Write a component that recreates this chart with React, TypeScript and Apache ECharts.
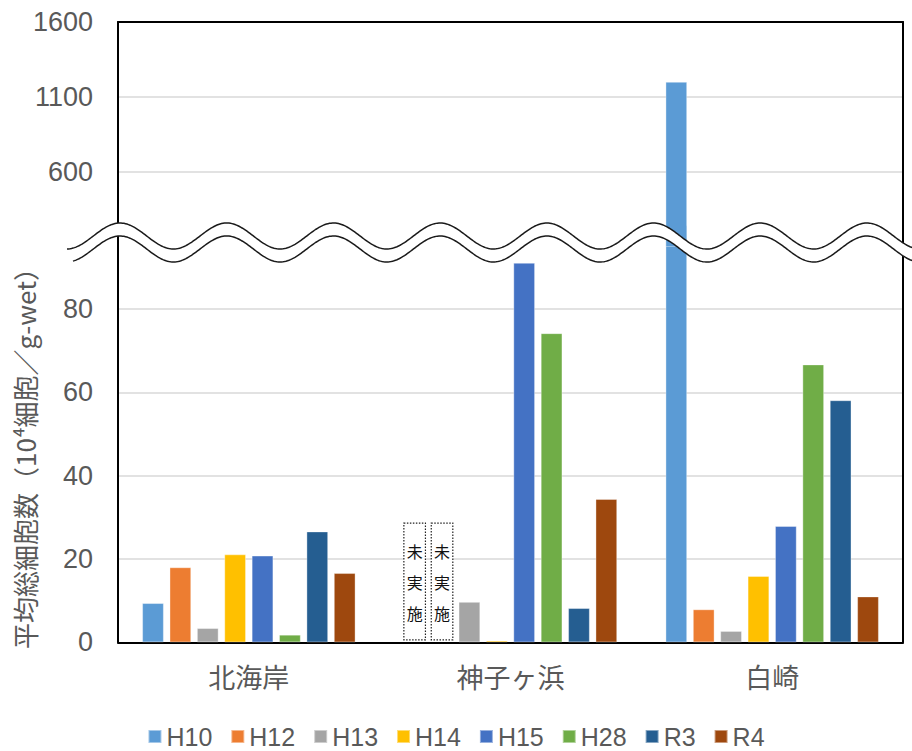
import React, { useEffect, useRef } from "react";
import * as echarts from "echarts";

// Sites and survey years
const categories = ["北海岸", "神子ヶ浜", "白崎"];
const years = ["H10", "H12", "H13", "H14", "H15", "H28", "R3", "R4"];

// Mean total cell count (10^4 cells / g-wet); null = not surveyed
const h10 = [9.4, null, 1200];
const h12 = [18.0, null, 7.9];
const h13 = [3.4, 9.7, 2.7];
const h14 = [21.1, 0.4, 15.9];
const h15 = [20.8, 91.1, 27.9];
const h28 = [1.8, 74.2, 66.7];
const r3 = [26.6, 8.2, 58.1];
const r4 = [16.6, 34.4, 11.0];
const seriesValues = [h10, h12, h13, h14, h15, h28, r3, r4];

const colors = ["#5B9BD5", "#ED7D31", "#A5A5A5", "#FFC000", "#4472C4", "#70AD47", "#255E91", "#9E480E"];

// Broken value axis: lower part 0–100, upper part 100–1600
const lowerMin = 0;
const lowerMax = 100;
const lowerStep = 20;
const upperMin = 100;
const upperMax = 1600;
const upperStep = 500;

const notSurveyedLabel = "未実施";
const yTitle = "平均総細胞数（10⁴細胞／g-wet）";

const NUM_FONT = '"Liberation Sans Narrow", "Liberation Sans", sans-serif';
const CJK_FONT = '"Noto Sans CJK JP", "Noto Sans", sans-serif';
const TEXT_COLOR = "#595959";
const GRID_COLOR = "#d9d9d9";

const BAR_GAP = 0.27;
const CAT_GAP = 0.185;

export default function App() {
  const ref = useRef<HTMLDivElement>(null);

  useEffect(() => {
    if (!ref.current) return;
    const chart = echarts.init(ref.current, null, { renderer: "svg" });

    const barStyle = (i: number) => ({
      color: colors[i],
      borderColor: "rgba(255,255,255,0.45)",
      borderWidth: 0.8,
    });

    const lowerSeries = years.map((y, i) => ({
      type: "bar",
      name: y,
      xAxisIndex: 1,
      yAxisIndex: 2,
      data: seriesValues[i],
      barGap: `${BAR_GAP * 100}%`,
      barCategoryGap: `${CAT_GAP * 100}%`,
      clip: true,
      itemStyle: barStyle(i),
    }));

    // Only values above the break reach the upper panel
    const upperSeries = years.map((y, i) => ({
      type: "bar",
      name: y,
      xAxisIndex: 0,
      yAxisIndex: 0,
      data: seriesValues[i].map((v) => (v != null && v > upperMin ? v : null)),
      barGap: `${BAR_GAP * 100}%`,
      barCategoryGap: `${CAT_GAP * 100}%`,
      clip: true,
      itemStyle: barStyle(i),
    }));

    // Slots with no survey: [category index, series index]
    const missing: number[][] = [];
    categories.forEach((_, c) => {
      seriesValues.forEach((vals, s) => {
        if (vals[c] == null) missing.push([c, s]);
      });
    });

    const missingSeries = {
      type: "custom",
      xAxisIndex: 1,
      yAxisIndex: 2,
      data: missing,
      z: 5,
      renderItem: (params: any, api: any) => {
        const c = api.value(0);
        const s = api.value(1);
        const base = api.coord([c, 0]);
        const band = api.size([1, 0])[0];
        const area = band * (1 - CAT_GAP);
        const n = years.length;
        const w = area / (n + (n - 1) * BAR_GAP);
        const cx = base[0] - area / 2 + w / 2 + s * w * (1 + BAR_GAP);
        const top = api.coord([c, 28.6])[1];
        const bottom = api.coord([c, 0.6])[1];
        return {
          type: "group",
          children: [
            {
              type: "rect",
              shape: { x: cx - w / 2, y: top, width: w, height: bottom - top },
              style: { fill: "#fff", stroke: "#222", lineWidth: 1.2, lineDash: [1.5, 1.5] },
            },
            {
              type: "text",
              x: cx,
              y: (top + bottom) / 2 + 1,
              style: {
                text: notSurveyedLabel.split("").join("\n"),
                fill: "#111",
                font: `16px ${CJK_FONT}`,
                lineHeight: 31,
                align: "center",
                verticalAlign: "middle",
              },
            },
          ],
        };
      },
    };

    // Wavy break band across the value axis
    const period = 106.7;
    const amp = 13;
    const mid = 236;
    const sep = 13;
    const waveY = (x: number, off: number) => mid + off - amp * Math.cos((2 * Math.PI * (x - 120)) / period);
    const topPts: number[][] = [];
    const botPts: number[][] = [];
    for (let x = 67; x <= 914; x += 1.5) topPts.push([x, waveY(x, 0)]);
    for (let x = 73; x <= 914; x += 1.5) botPts.push([x, waveY(x, sep)]);
    const bandPts = topPts.concat(botPts.slice().reverse());

    const axisLine = { show: true, lineStyle: { color: "#000", width: 2 } };

    chart.setOption({
      animation: false,
      backgroundColor: "#fff",
      grid: [
        { left: 118, right: 9, top: 22, height: 224.5 },
        { left: 118, right: 9, top: 225.8, height: 416.5 },
      ],
      xAxis: [
        {
          gridIndex: 0,
          type: "category",
          data: categories,
          position: "top",
          axisLine,
          axisTick: { show: false },
          axisLabel: { show: false },
        },
        {
          gridIndex: 1,
          type: "category",
          data: categories,
          position: "bottom",
          axisLine,
          axisTick: { show: false },
          axisLabel: { fontSize: 27, color: TEXT_COLOR, fontFamily: CJK_FONT, margin: 21 },
        },
      ],
      yAxis: [
        {
          gridIndex: 0,
          type: "value",
          min: upperMin,
          max: upperMax,
          interval: upperStep,
          axisLine,
          axisTick: { show: false },
          axisLabel: {
            formatter: (v: number) => (v === upperMin ? "" : String(v)),
            fontSize: 27,
            color: TEXT_COLOR,
            fontFamily: NUM_FONT,
            margin: 25,
          },
          splitLine: { show: true, showMinLine: false, lineStyle: { color: GRID_COLOR, width: 1.5 } },
        },
        {
          gridIndex: 0,
          type: "value",
          position: "right",
          min: upperMin,
          max: upperMax,
          interval: upperStep,
          axisLine,
          axisTick: { show: false },
          axisLabel: { show: false },
          splitLine: { show: false },
        },
        {
          gridIndex: 1,
          type: "value",
          min: lowerMin,
          max: lowerMax,
          interval: lowerStep,
          axisLine,
          axisTick: { show: false },
          axisLabel: {
            formatter: (v: number) => (v === lowerMax ? "" : String(v)),
            fontSize: 27,
            color: TEXT_COLOR,
            fontFamily: NUM_FONT,
            margin: 25,
          },
          splitLine: { show: true, showMaxLine: false, lineStyle: { color: GRID_COLOR, width: 1.5 } },
        },
        {
          gridIndex: 1,
          type: "value",
          position: "right",
          min: lowerMin,
          max: lowerMax,
          interval: lowerStep,
          axisLine,
          axisTick: { show: false },
          axisLabel: { show: false },
          splitLine: { show: false },
        },
      ],
      legend: {
        data: years,
        left: "center",
        top: 719,
        icon: "rect",
        itemWidth: 13,
        itemHeight: 13,
        itemGap: 18,
        textStyle: { fontSize: 25, color: TEXT_COLOR, fontFamily: NUM_FONT },
      },
      graphic: [
        {
          type: "polygon",
          z: 100,
          shape: { points: bandPts },
          style: { fill: "#fff", stroke: "none" },
        },
        {
          type: "polyline",
          z: 101,
          shape: { points: topPts },
          style: { stroke: "#1a1a1a", lineWidth: 1.5, fill: "none" },
        },
        {
          type: "polyline",
          z: 101,
          shape: { points: botPts },
          style: { stroke: "#1a1a1a", lineWidth: 1.5, fill: "none" },
        },
        {
          type: "text",
          z: 101,
          x: 24,
          y: 452,
          rotation: Math.PI / 2,
          style: {
            text: yTitle,
            font: `26px ${CJK_FONT}`,
            fill: TEXT_COLOR,
            align: "center",
            verticalAlign: "middle",
          },
        },
      ],
      series: [...lowerSeries, ...upperSeries, missingSeries],
    });

    return () => chart.dispose();
  }, []);

  return <div ref={ref} style={{ position: "fixed", left: 0, top: 0, width: 912, height: 751 }} />;
}
